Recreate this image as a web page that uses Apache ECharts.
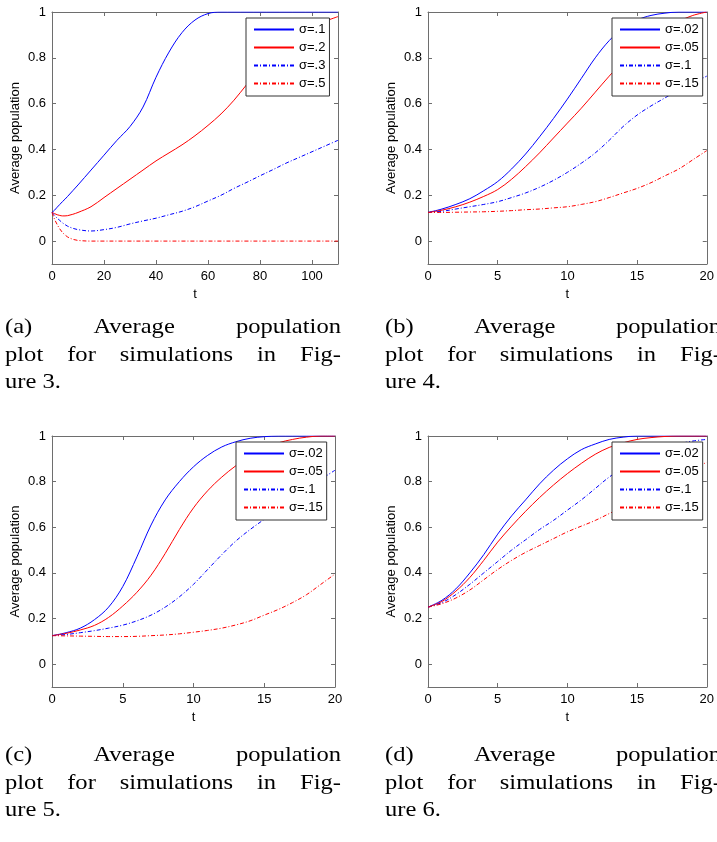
<!DOCTYPE html>
<html>
<head>
<meta charset="utf-8">
<script src="https://cdn.jsdelivr.net/npm/echarts@6/dist/echarts.min.js"></script>
<style>
  html, body { margin: 0; padding: 0; background: #fff; }
  #chart { width: 717px; height: 842px; }
</style>
</head>
<body>
<div id="chart"></div>
<script>
// ---- Panel (a): simulations of Figure 3, t from 0 to 110 ----
const tA = [0, 1, 2, 3, 4, 5, 6, 8, 10, 15, 20, 25, 30, 35, 40, 45, 50, 55, 60, 65, 70, 75, 80, 85, 90, 95, 100, 105, 110];
const aSig1 = [0.125, 0.135, 0.148, 0.16, 0.172, 0.183, 0.195, 0.22, 0.245, 0.31, 0.375, 0.44, 0.50, 0.585, 0.715, 0.825, 0.91, 0.965, 0.993, 1, 1, 1, 1, 1, 1, 1, 1, 1, 1];
const aSig2 = [0.125, 0.12, 0.115, 0.112, 0.11, 0.11, 0.111, 0.117, 0.125, 0.15, 0.19, 0.23, 0.27, 0.31, 0.35, 0.385, 0.42, 0.46, 0.505, 0.555, 0.615, 0.685, 0.755, 0.82, 0.87, 0.91, 0.94, 0.96, 0.98];
const aSig3 = [0.125, 0.112, 0.1, 0.09, 0.08, 0.072, 0.065, 0.056, 0.05, 0.044, 0.05, 0.06, 0.075, 0.088, 0.1, 0.115, 0.13, 0.15, 0.175, 0.2, 0.23, 0.257, 0.285, 0.312, 0.34, 0.365, 0.39, 0.415, 0.44];
const aSig5 = [0.125, 0.095, 0.072, 0.053, 0.038, 0.027, 0.018, 0.008, 0.003, 0, 0, 0, 0, 0, 0, 0, 0, 0, 0, 0, 0, 0, 0, 0, 0, 0, 0, 0, 0];

// ---- Panels (b), (c), (d): t from 0 to 20 ----
const tB = [0, 1, 2, 3, 4, 5, 6, 7, 8, 9, 10, 11, 12, 13, 14, 15, 16, 17, 18, 19, 20];

const bSig02 = [0.125, 0.14, 0.16, 0.185, 0.22, 0.26, 0.315, 0.38, 0.455, 0.535, 0.62, 0.71, 0.80, 0.875, 0.93, 0.965, 0.985, 0.995, 1, 1, 1];
const bSig05 = [0.125, 0.135, 0.15, 0.17, 0.195, 0.225, 0.27, 0.325, 0.385, 0.45, 0.515, 0.58, 0.65, 0.72, 0.785, 0.84, 0.89, 0.93, 0.96, 0.985, 1];
const bSig1 = [0.125, 0.13, 0.14, 0.15, 0.16, 0.172, 0.19, 0.21, 0.235, 0.265, 0.30, 0.34, 0.385, 0.44, 0.50, 0.55, 0.59, 0.625, 0.66, 0.69, 0.72];
const bSig15 = [0.125, 0.125, 0.126, 0.127, 0.128, 0.13, 0.133, 0.137, 0.14, 0.145, 0.15, 0.16, 0.172, 0.19, 0.21, 0.23, 0.255, 0.285, 0.315, 0.355, 0.395];

const cSig02 = [0.125, 0.138, 0.158, 0.195, 0.25, 0.34, 0.47, 0.61, 0.72, 0.80, 0.865, 0.915, 0.952, 0.975, 0.99, 0.997, 1, 1, 1, 1, 1];
const cSig05 = [0.125, 0.135, 0.15, 0.17, 0.205, 0.255, 0.315, 0.39, 0.485, 0.59, 0.685, 0.76, 0.82, 0.87, 0.912, 0.945, 0.97, 0.985, 0.995, 1, 1];
const cSig1 = [0.125, 0.13, 0.138, 0.147, 0.158, 0.171, 0.19, 0.215, 0.25, 0.295, 0.35, 0.415, 0.48, 0.54, 0.59, 0.635, 0.68, 0.725, 0.77, 0.81, 0.85];
const cSig15 = [0.125, 0.124, 0.123, 0.122, 0.121, 0.121, 0.122, 0.125, 0.128, 0.133, 0.14, 0.148, 0.158, 0.172, 0.19, 0.215, 0.24, 0.27, 0.305, 0.35, 0.395];

const dSig02 = [0.25, 0.28, 0.33, 0.40, 0.48, 0.57, 0.65, 0.72, 0.79, 0.85, 0.90, 0.94, 0.965, 0.985, 0.995, 1, 1, 1, 1, 1, 1];
const dSig05 = [0.25, 0.275, 0.32, 0.38, 0.455, 0.535, 0.605, 0.67, 0.73, 0.785, 0.835, 0.88, 0.92, 0.95, 0.97, 0.985, 0.993, 0.998, 1, 1, 1];
const dSig1 = [0.25, 0.27, 0.305, 0.35, 0.40, 0.45, 0.50, 0.545, 0.59, 0.63, 0.675, 0.72, 0.77, 0.82, 0.86, 0.89, 0.92, 0.945, 0.965, 0.978, 0.985];
const dSig15 = [0.25, 0.265, 0.29, 0.325, 0.37, 0.415, 0.455, 0.49, 0.52, 0.55, 0.58, 0.605, 0.63, 0.66, 0.69, 0.725, 0.76, 0.79, 0.825, 0.855, 0.885];

// ---- Tick labels and legend names ----
const yTicks = [0, 0.2, 0.4, 0.6, 0.8, 1];
const xTicksA = [0, 20, 40, 60, 80, 100];
const xTicksB = [0, 5, 10, 15, 20];
const legendA = ['σ=.1', 'σ=.2', 'σ=.3', 'σ=.5'];
const legendB = ['σ=.02', 'σ=.05', 'σ=.1', 'σ=.15'];

// ---- Sub-figure captions ----
const captionA = ['(a) Average population', 'plot for simulations in Fig-', 'ure 3.'];
const captionB = ['(b) Average population', 'plot for simulations in Fig-', 'ure 4.'];
const captionC = ['(c) Average population', 'plot for simulations in Fig-', 'ure 5.'];
const captionD = ['(d) Average population', 'plot for simulations in Fig-', 'ure 6.'];

const BLUE = '#0000ff';
const RED = '#ff0000';
const DASHDOT = [4, 2, 1, 2];
const FRAME = '#6e6e6e';
const SANS = '"Liberation Sans", Arial, sans-serif';
const SERIF = '"Liberation Serif", "Times New Roman", serif';

const panels = [
  { key: 'a', grid: { left: 52, top: 12, width: 286, height: 252 }, xMax: 110, xTicks: xTicksA, t: tA,
    ys: [aSig1, aSig2, aSig3, aSig5], names: legendA, legendPos: { left: 246, top: 18 } },
  { key: 'b', grid: { left: 428, top: 12, width: 283, height: 252 }, xMax: 20, xTicks: xTicksB, t: tB,
    ys: [bSig02, bSig05, bSig1, bSig15], names: legendB, legendPos: { left: 612, top: 18 } },
  { key: 'c', grid: { left: 52, top: 436, width: 283, height: 251 }, xMax: 20, xTicks: xTicksB, t: tB,
    ys: [cSig02, cSig05, cSig1, cSig15], names: legendB, legendPos: { left: 236, top: 442 } },
  { key: 'd', grid: { left: 428, top: 436, width: 283, height: 251 }, xMax: 20, xTicks: xTicksB, t: tB,
    ys: [dSig02, dSig05, dSig1, dSig15], names: legendB, legendPos: { left: 612, top: 442 } }
];

const lineStyles = [
  { color: BLUE, type: 'solid' },
  { color: RED, type: 'solid' },
  { color: BLUE, type: DASHDOT },
  { color: RED, type: DASHDOT }
];

const grids = [], xAxes = [], yAxes = [], series = [], legends = [];

panels.forEach((p, i) => {
  grids.push(p.grid);
  const tickStyle = { show: true, inside: true, length: 4, lineStyle: { color: FRAME, width: 1 } };
  // bottom axis with labels
  xAxes.push({
    type: 'value', gridIndex: i, min: 0, max: p.xMax, position: 'bottom',
    name: 't', nameLocation: 'middle', nameGap: 24,
    nameTextStyle: { fontFamily: SANS, fontSize: 13, color: '#000' },
    axisLine: { show: true, onZero: false, lineStyle: { color: FRAME, width: 1 } },
    axisTick: Object.assign({ customValues: p.xTicks }, tickStyle),
    axisLabel: { customValues: p.xTicks, margin: 6, fontFamily: SANS, fontSize: 13, color: '#000' },
    splitLine: { show: false }
  });
  // top frame edge with ticks only
  xAxes.push({
    type: 'value', gridIndex: i, min: 0, max: p.xMax, position: 'top',
    axisLine: { show: true, onZero: false, lineStyle: { color: FRAME, width: 1 } },
    axisTick: Object.assign({ customValues: p.xTicks }, tickStyle),
    axisLabel: { show: false }, splitLine: { show: false }
  });
  // left axis with labels
  yAxes.push({
    type: 'value', gridIndex: i, min: -0.1, max: 1, position: 'left',
    name: 'Average population', nameLocation: 'middle', nameGap: 30,
    nameTextStyle: { fontFamily: SANS, fontSize: 13, color: '#000' },
    axisLine: { show: true, onZero: false, lineStyle: { color: FRAME, width: 1 } },
    axisTick: Object.assign({ customValues: yTicks }, tickStyle),
    axisLabel: { customValues: yTicks, margin: 6, fontFamily: SANS, fontSize: 13, color: '#000' },
    splitLine: { show: false }
  });
  // right frame edge with ticks only
  yAxes.push({
    type: 'value', gridIndex: i, min: -0.1, max: 1, position: 'right',
    axisLine: { show: true, onZero: false, lineStyle: { color: FRAME, width: 1 } },
    axisTick: Object.assign({ customValues: yTicks }, tickStyle),
    axisLabel: { show: false }, splitLine: { show: false }
  });

  const ids = [];
  p.ys.forEach((vals, k) => {
    const id = p.key + '|' + p.names[k];
    ids.push(id);
    series.push({
      name: id, type: 'line', xAxisIndex: 2 * i, yAxisIndex: 2 * i,
      data: p.t.map((t, j) => [t, vals[j]]),
      smooth: 0.35, symbol: 'none', clip: true, z: 2,
      lineStyle: Object.assign({ width: 1 }, lineStyles[k]),
      itemStyle: { color: lineStyles[k].color },
      emphasis: { disabled: true }, animation: false
    });
  });
  legends.push(Object.assign({
    data: ids, formatter: n => n.split('|')[1],
    orient: 'vertical', itemWidth: 40, itemHeight: 13, itemGap: 5,
    padding: [5, 4, 6, 7], backgroundColor: '#fff', borderColor: '#333', borderWidth: 1,
    selectedMode: false, z: 5,
    // only the line sample is drawn, no marker on it
    itemStyle: { opacity: 0, color: 'rgba(0,0,0,0)', borderWidth: 0 },
    textStyle: { fontFamily: SANS, fontSize: 13, color: '#000' }
  }, p.legendPos));
});

// Justified caption text, laid out word by word
const measureCtx = document.createElement('canvas').getContext('2d');
const CAP_SIZE = 21;
const CAP_SCALE = 1.17;
const CAP_FONT = CAP_SIZE + 'px ' + SERIF;
measureCtx.font = CAP_FONT;
function captionElements(lines, x0, x1, yFirst, lineStep) {
  const els = [];
  lines.forEach((line, li) => {
    const y = yFirst + li * lineStep;
    const words = line.split(' ');
    const last = li === lines.length - 1;
    if (last || words.length === 1) {
      els.push({ type: 'text', x: x0, y: y, scaleX: CAP_SCALE, style: { text: line, font: CAP_FONT, fill: '#000' } });
      return;
    }
    const widths = words.map(w => measureCtx.measureText(w).width * CAP_SCALE);
    const total = widths.reduce((s, w) => s + w, 0);
    const gap = (x1 - x0 - total) / (words.length - 1);
    let x = x0;
    words.forEach((w, wi) => {
      els.push({ type: 'text', x: x, y: y, scaleX: CAP_SCALE, style: { text: w, font: CAP_FONT, fill: '#000' } });
      x += widths[wi] + gap;
    });
  });
  return els;
}

const graphics = [].concat(
  captionElements(captionA, 5, 341, 317, 27.5),
  captionElements(captionB, 385, 721, 317, 27.5),
  captionElements(captionC, 5, 341, 745, 27.5),
  captionElements(captionD, 385, 721, 745, 27.5)
);

const chart = echarts.init(document.getElementById('chart'), null, { renderer: 'canvas' });
chart.setOption({
  backgroundColor: '#fff',
  animation: false,
  grid: grids,
  xAxis: xAxes,
  yAxis: yAxes,
  legend: legends,
  series: series,
  graphic: { elements: graphics }
});
</script>
</body>
</html>
